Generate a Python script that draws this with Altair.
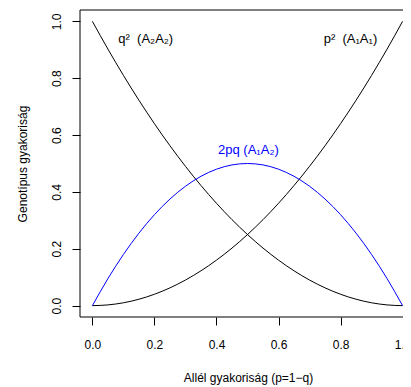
import altair as alt
import pandas as pd

# Allele frequency p
p_vals = [0.0, 0.05, 0.1, 0.15, 0.2, 0.25, 0.3, 0.35, 0.4, 0.45, 0.5,
          0.55, 0.6, 0.65, 0.7, 0.75, 0.8, 0.85, 0.9, 0.95, 1.0]
# p^2 (A1A1)
p2_vals = [0.0, 0.0025, 0.01, 0.0225, 0.04, 0.0625, 0.09, 0.1225, 0.16, 0.2025, 0.25,
           0.3025, 0.36, 0.4225, 0.49, 0.5625, 0.64, 0.7225, 0.81, 0.9025, 1.0]
# q^2 (A2A2)
q2_vals = [1.0, 0.9025, 0.81, 0.7225, 0.64, 0.5625, 0.49, 0.4225, 0.36, 0.3025, 0.25,
           0.2025, 0.16, 0.1225, 0.09, 0.0625, 0.04, 0.0225, 0.01, 0.0025, 0.0]
# 2pq (A1A2)
pq2_vals = [0.0, 0.095, 0.18, 0.255, 0.32, 0.375, 0.42, 0.455, 0.48, 0.495, 0.5,
            0.495, 0.48, 0.455, 0.42, 0.375, 0.32, 0.255, 0.18, 0.095, 0.0]

series_names = ["q2", "p2", "2pq"]
series_colors = ["#000000", "#000000", "#0000ff"]

label_texts = ["q²\u00a0\u00a0(A₂A₂)", "p²\u00a0\u00a0(A₁A₁)", "2pq (A₁A₂)"]
label_x = [0.172, 0.832, 0.503]
label_y = [0.937, 0.937, 0.546]
label_colors = ["#000000", "#000000", "#0000ff"]

x_ticks = [0.0, 0.2, 0.4, 0.6, 0.8, 1.0]
y_ticks = [0.0, 0.2, 0.4, 0.6, 0.8, 1.0]

FONT = "Liberation Sans, Arial, Helvetica, sans-serif"
W_RANGE = 335
H = 307

rows = []
for name, vals in zip(series_names, [q2_vals, p2_vals, pq2_vals]):
    for p, v in zip(p_vals, vals):
        rows.append({"p": p, "f": v, "series": name})
df = pd.DataFrame(rows)

lab_df = pd.DataFrame({"text": label_texts, "x": label_x, "y": label_y, "c": label_colors})

xscale = alt.Scale(domain=[-0.04, 1.04], range=[0, W_RANGE], nice=False, zero=False)
yscale = alt.Scale(domain=[-0.04, 1.04], nice=False, zero=False)

xaxis = alt.Axis(values=x_ticks, format=".1f", grid=False, domain=False,
                 tickSize=8, tickColor="black", tickWidth=1,
                 labelFont=FONT, labelFontSize=12, labelColor="black",
                 labelPadding=14, labelFlush=False, labelOverlap=False,
                 title="Allél gyakoriság (p=1−q)", titleFont=FONT, titleFontSize=12,
                 titleFontWeight="normal", titleColor="black",
                 titleX=168, titleY=64, titleBaseline="alphabetic", titleAlign="center")
yaxis = alt.Axis(values=y_ticks, format=".1f", grid=False, domain=False,
                 tickSize=8, tickColor="black", tickWidth=1,
                 labelFont=FONT, labelFontSize=12, labelColor="black",
                 labelAngle=270, labelAlign="center", labelBaseline="alphabetic",
                 labelPadding=12, labelFlush=False, labelOverlap=False,
                 title="Genotípus gyakoriság", titleFont=FONT, titleFontSize=12,
                 titleFontWeight="normal", titleColor="black",
                 titleAngle=270, titleX=-53.5, titleY=H / 2,
                 titleBaseline="alphabetic", titleAlign="center")

lines = alt.Chart(df).mark_line(strokeWidth=1, interpolate="monotone").encode(
    x=alt.X("p:Q", scale=xscale, axis=xaxis),
    y=alt.Y("f:Q", scale=yscale, axis=yaxis),
    color=alt.Color("series:N", scale=alt.Scale(domain=series_names, range=series_colors), legend=None),
    detail="series:N",
)

box = alt.Chart(pd.DataFrame({"a": [0]})).mark_rect(
    fill="transparent", stroke="black", strokeWidth=1
).encode(x=alt.value(0), x2=alt.value(W_RANGE), y=alt.value(0), y2=alt.value(H))

texts = alt.Chart(lab_df).mark_text(font=FONT, fontSize=13, align="center", baseline="middle").encode(
    x=alt.X("x:Q", scale=xscale),
    y=alt.Y("y:Q", scale=yscale),
    text="text:N",
    color=alt.Color("c:N", scale=None),
)

chart = alt.layer(box, lines, texts).properties(
    width=323, height=H,
    autosize=alt.AutoSizeParams(type="none"),
    padding={"left": 72, "top": 2, "right": 0, "bottom": 68},
).configure_view(stroke=None)

chart.save("out.html", embed_options={"renderer": "svg", "actions": False})
